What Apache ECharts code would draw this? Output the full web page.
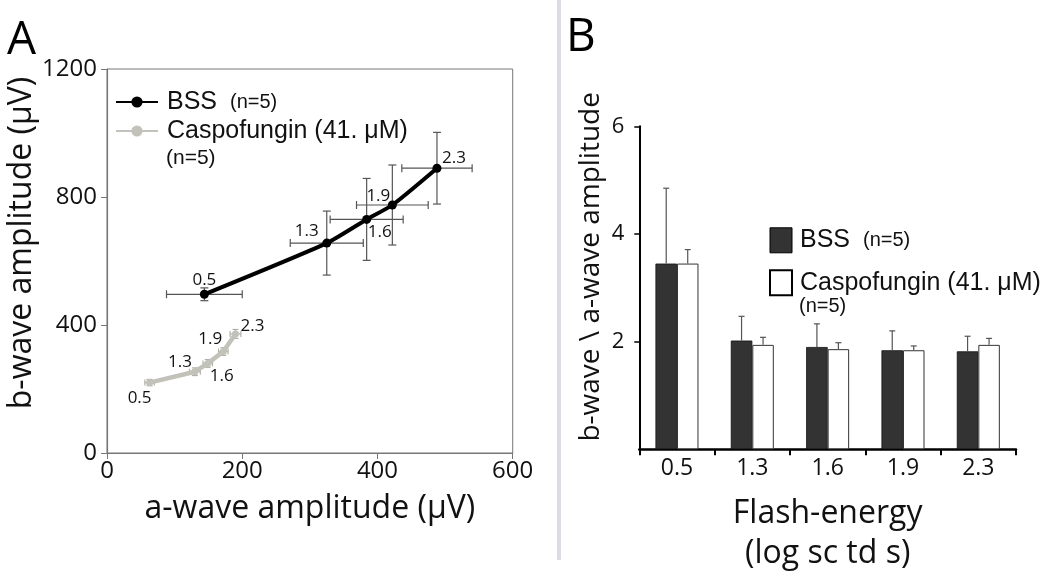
<!DOCTYPE html>
<html>
<head>
<meta charset="utf-8">
<script src="https://cdn.jsdelivr.net/npm/echarts@6/dist/echarts.min.js"></script>
<style>
html,body{margin:0;padding:0;background:#fff;}
#chart{width:1050px;height:583px;}
</style>
</head>
<body>
<div id="chart"></div>
<script>
// ---- data ----
const flashEnergy = ['0.5', '1.3', '1.6', '1.9', '2.3'];
// Panel A: a-wave vs b-wave amplitude (µV)
const bssA = [144, 325, 384, 422, 488];
const bssB = [496, 656, 730, 775, 890];
const bssAErr = [56, 54, 54, 53, 52];
const bssBErr = [20, 100, 128, 125, 112];
const caspA = [63, 130, 149, 172, 190];
const caspB = [220, 254, 280, 317, 372];
const caspAErr = [7, 8, 7, 7, 8];
const caspBErr = [10, 12, 12, 12, 14];
// Panel B: b-wave / a-wave ratio
const ratioBss = [3.45, 2.02, 1.90, 1.84, 1.82];
const ratioBssErr = [1.40, 0.45, 0.43, 0.36, 0.28];
const ratioCasp = [3.45, 1.94, 1.86, 1.84, 1.94];
const ratioCaspErr = [0.26, 0.14, 0.12, 0.08, 0.12];
const xTicksA = [0, 200, 400, 600];
const yTicksA = [0, 400, 800, 1200];
const yTicksB = [0, 2, 4, 6];

// ---- styles ----
const FONT = 'Open Sans';
const LFONT = 'Liberation Sans';
const BSS_LINE = '#000000';
const CASP_LINE = '#c2c2ba';
const BSS_BAR = '#333333';
const ERR_COLOR = '#555555';
const CASP_ERR = '#b0b0a8';
const BAR_W = 21.5;
const bssLabelOffsets = [[0, -14], [-20, -12], [13, 13], [-14, -9], [17, -10]];
const caspLabelOffsets = [[-10, 16], [-15, -10], [14, 13], [-13, -12], [17, -8]];

const chart = echarts.init(document.getElementById('chart'), null, {renderer: 'canvas'});

function errXY(color, capLen) {
  return function (params, api) {
    const a = api.value(0), b = api.value(1), ea = api.value(2), eb = api.value(3);
    const l = api.coord([a - ea, b]), r = api.coord([a + ea, b]);
    const t = api.coord([a, b + eb]), bt = api.coord([a, b - eb]);
    const segs = [
      [l[0], l[1], r[0], r[1]],
      [l[0], l[1] - capLen, l[0], l[1] + capLen],
      [r[0], r[1] - capLen, r[0], r[1] + capLen],
      [t[0], t[1], bt[0], bt[1]],
      [t[0] - capLen, t[1], t[0] + capLen, t[1]],
      [bt[0] - capLen, bt[1], bt[0] + capLen, bt[1]]
    ];
    return {
      type: 'group',
      children: segs.map(s => ({
        type: 'line',
        shape: {x1: s[0], y1: s[1], x2: s[2], y2: s[3]},
        style: {stroke: color, lineWidth: 1.2}
      }))
    };
  };
}

function errBar(offset, color) {
  return function (params, api) {
    const i = api.value(0), v = api.value(1), e = api.value(2);
    const p0 = api.coord([i, v]);
    const p1 = api.coord([i, v + e]);
    const x = p0[0] + offset;
    return {
      type: 'group',
      children: [
        {type: 'line', shape: {x1: x, y1: p0[1], x2: x, y2: p1[1]}, style: {stroke: color, lineWidth: 1.2}},
        {type: 'line', shape: {x1: x - 3, y1: p1[1], x2: x + 3, y2: p1[1]}, style: {stroke: color, lineWidth: 1.2}}
      ]
    };
  };
}

function pointData(xs, ys, offsets) {
  return xs.map((a, i) => ({value: [a, ys[i]], label: {offset: offsets[i]}}));
}

const option = {
  backgroundColor: '#ffffff',
  animation: false,
  textStyle: {fontFamily: FONT},
  grid: [
    {left: 107, top: 69, width: 405.7, height: 384, show: true, borderColor: '#777', borderWidth: 1, backgroundColor: '#fff'},
    {left: 639.3, top: 126.3, width: 376.7, height: 323}
  ],
  xAxis: [
    {
      gridIndex: 0, type: 'value', min: xTicksA[0], max: xTicksA[xTicksA.length - 1], interval: 200,
      name: 'a-wave amplitude (μV)', nameLocation: 'middle', nameGap: 40,
      nameTextStyle: {fontFamily: FONT, fontSize: 32, color: '#111'},
      axisLine: {show: true, lineStyle: {color: '#777', width: 1.2}},
      axisTick: {show: true, length: 6, lineStyle: {color: '#777'}},
      axisLabel: {fontFamily: FONT, fontSize: 24, color: '#111', margin: 6, formatter: v => String(v)},
      splitLine: {show: false}
    },
    {
      gridIndex: 1, type: 'category', data: flashEnergy,
      boundaryGap: true,
      name: 'Flash-energy\n(log sc td s)', nameLocation: 'middle', nameGap: 45,
      nameTextStyle: {fontFamily: FONT, fontSize: 32, color: '#111', lineHeight: 40},
      axisLine: {show: true, lineStyle: {color: '#000', width: 2.5}},
      axisTick: {show: true, length: 6, alignWithLabel: false, lineStyle: {color: '#000', width: 2}},
      axisLabel: {fontFamily: FONT, fontSize: 23, color: '#111', margin: 8},
      splitLine: {show: false}
    }
  ],
  yAxis: [
    {
      gridIndex: 0, type: 'value', min: yTicksA[0], max: yTicksA[yTicksA.length - 1], interval: 400,
      name: 'b-wave amplitude (μV)', nameLocation: 'middle', nameGap: 63,
      nameTextStyle: {fontFamily: FONT, fontSize: 32, color: '#111', padding: [0, 0, 0, 36]},
      axisLine: {show: true, lineStyle: {color: '#777', width: 1.2}},
      axisTick: {show: true, length: 6, lineStyle: {color: '#777'}},
      axisLabel: {fontFamily: FONT, fontSize: 24, color: '#111', margin: 10, formatter: v => String(v)},
      splitLine: {show: false}
    },
    {
      gridIndex: 1, type: 'value', min: yTicksB[0], max: yTicksB[yTicksB.length - 1], interval: 2,
      name: 'b-wave \\ a-wave amplitude', nameLocation: 'middle', nameGap: 34,
      nameTextStyle: {fontFamily: FONT, fontSize: 28, color: '#111', padding: [0, 0, 0, 42]},
      axisLine: {show: true, lineStyle: {color: '#000', width: 2}},
      axisTick: {show: true, length: 5, lineStyle: {color: '#000', width: 1.5}},
      axisLabel: {fontFamily: FONT, fontSize: 22, color: '#111', margin: 15, showMinLabel: false,
        formatter: v => (v === 0 ? '' : String(v))},
      splitLine: {show: false}
    }
  ],
  legend: [
    {
      orient: 'vertical', left: 115, top: 89, padding: 0, itemGap: 3,
      itemWidth: 42, itemHeight: 14,
      data: [
        {name: 'BSS'},
        {name: 'Caspofungin (41. μM)'}
      ],
      formatter: function (name) {
        return name === 'BSS' ? 'BSS {n|(n=5)}' : name;
      },
      textStyle: {
        fontFamily: LFONT, fontSize: 25, color: '#111', lineHeight: 26, padding: [0, 0, 0, 4],
        rich: {n: {fontFamily: LFONT, fontSize: 20, color: '#111', padding: [0, 0, 0, 6]}}
      }
    },
    {
      orient: 'vertical', left: 769, top: 227.3, padding: 0, itemGap: 16,
      itemWidth: 22, itemHeight: 25, icon: 'rect',
      data: [
        {name: 'BSS ', itemStyle: {color: BSS_BAR, borderColor: '#000', borderWidth: 1}},
        {name: 'Caspofungin (41. μM) ', itemStyle: {color: '#fff', borderColor: '#000', borderWidth: 2}}
      ],
      formatter: function (name) {
        return name === 'BSS ' ? 'BSS {n|(n=5)}' : name.trim();
      },
      textStyle: {
        fontFamily: LFONT, fontSize: 25, color: '#111', lineHeight: 26, padding: [0, 0, 0, 3],
        rich: {n: {fontFamily: LFONT, fontSize: 20, color: '#111', padding: [0, 0, 0, 6]}}
      }
    }
  ],
  graphic: [
    {type: 'text', left: 7, top: 18, style: {text: 'A', fontFamily: FONT, fontSize: 46, fill: '#000'}},
    {type: 'text', left: 566, top: 15, style: {text: 'B', fontFamily: FONT, fontSize: 46, fill: '#000'}},
    {type: 'rect', shape: {x: 557, y: 0, width: 4, height: 560}, style: {fill: '#dcdce6'}},
    {type: 'text', left: 166, top: 148, style: {text: '(n=5)', fontFamily: LFONT, fontSize: 21, fill: '#111'}},
    {type: 'text', left: 799, top: 296, style: {text: '(n=5)', fontFamily: LFONT, fontSize: 20, fill: '#111'}}
  ],
  series: [
    {
      type: 'custom', name: 'errBss', xAxisIndex: 0, yAxisIndex: 0, z: 1,
      renderItem: errXY(ERR_COLOR, 4),
      encode: {x: 0, y: 1},
      data: bssA.map((a, i) => [a, bssB[i], bssAErr[i], bssBErr[i]]),
      silent: true
    },
    {
      type: 'custom', name: 'errCasp', xAxisIndex: 0, yAxisIndex: 0, z: 1,
      renderItem: errXY(CASP_ERR, 3),
      encode: {x: 0, y: 1},
      data: caspA.map((a, i) => [a, caspB[i], caspAErr[i], caspBErr[i]]),
      silent: true
    },
    {
      type: 'line', name: 'BSS', xAxisIndex: 0, yAxisIndex: 0, z: 3,
      smooth: 0.2,
      symbol: 'circle', symbolSize: 9,
      lineStyle: {color: BSS_LINE, width: 4},
      itemStyle: {color: BSS_LINE},
      label: {
        show: true, position: 'inside', fontFamily: FONT, fontSize: 17, color: '#111',
        formatter: p => flashEnergy[p.dataIndex]
      },
      data: pointData(bssA, bssB, bssLabelOffsets)
    },
    {
      type: 'line', name: 'Caspofungin (41. μM)', xAxisIndex: 0, yAxisIndex: 0, z: 3,
      symbol: 'circle', symbolSize: 7,
      lineStyle: {color: CASP_LINE, width: 4.5},
      itemStyle: {color: CASP_LINE},
      label: {
        show: true, position: 'inside', fontFamily: FONT, fontSize: 17, color: '#111',
        formatter: p => flashEnergy[p.dataIndex]
      },
      data: pointData(caspA, caspB, caspLabelOffsets)
    },
    {
      type: 'bar', name: 'BSS ', xAxisIndex: 1, yAxisIndex: 1,
      barWidth: BAR_W, barGap: '0%',
      itemStyle: {color: BSS_BAR, borderColor: '#111', borderWidth: 0.8},
      data: ratioBss
    },
    {
      type: 'bar', name: 'Caspofungin (41. μM) ', xAxisIndex: 1, yAxisIndex: 1,
      barWidth: BAR_W, barGap: '0%',
      itemStyle: {color: '#ffffff', borderColor: '#333', borderWidth: 1},
      data: ratioCasp
    },
    {
      type: 'custom', name: 'errRatioBss', xAxisIndex: 1, yAxisIndex: 1, z: 5,
      renderItem: errBar(-BAR_W / 2, ERR_COLOR),
      encode: {x: 0, y: 1},
      data: ratioBss.map((v, i) => [i, v, ratioBssErr[i]]),
      silent: true
    },
    {
      type: 'custom', name: 'errRatioCasp', xAxisIndex: 1, yAxisIndex: 1, z: 5,
      renderItem: errBar(BAR_W / 2, ERR_COLOR),
      encode: {x: 0, y: 1},
      data: ratioCasp.map((v, i) => [i, v, ratioCaspErr[i]]),
      silent: true
    }
  ]
};
chart.setOption(option);
</script>
</body>
</html>
